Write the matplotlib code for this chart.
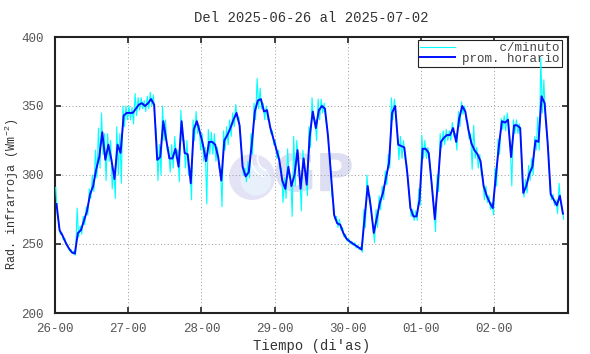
import matplotlib
matplotlib.use('Agg')
import matplotlib.pyplot as plt
import numpy as np
from matplotlib.patches import Ellipse, Arc

plt.rcParams['font.family'] = ['Liberation Mono', 'DejaVu Sans Mono']
plt.rcParams['mathtext.default'] = 'regular'

# ---- data (hourly averages, per day) ----
day_labels = ["26-00", "27-00", "28-00", "29-00", "30-00", "01-00", "02-00"]

prom_26 = [279, 260, 256, 251, 247, 244, 243, 258, 260, 267, 274, 286, 292, 304, 313, 331, 311, 322, 311, 297, 322, 316, 343, 345]
prom_27 = [345, 345, 348, 351, 352, 350, 352, 355, 351, 311, 313, 339, 325, 312, 312, 319, 306, 339, 316, 315, 294, 333, 339, 331]
prom_28 = [322, 310, 324, 324, 322, 313, 296, 325, 329, 334, 340, 345, 336, 306, 299, 302, 322, 346, 354, 355, 346, 347, 335, 327]
prom_29 = [319, 311, 296, 290, 306, 292, 300, 318, 290, 312, 293, 328, 346, 334, 347, 350, 348, 328, 300, 271, 265, 264, 258, 254]
prom_30 = [252, 250.5, 249, 247.5, 246, 269, 292, 277, 258, 269, 280, 287, 298, 309, 345, 350, 322, 321, 320, 301, 276, 270, 270, 282]
prom_01 = [319, 319, 316, 293, 268, 294, 324, 327, 329, 329, 334, 324, 341, 350, 346, 333, 323, 318, 315, 310, 292, 285, 280, 276]
prom_02 = [299, 321, 339, 338, 340, 313, 336, 336, 334, 287, 292, 301, 306, 325, 324, 357, 352, 323, 286, 282, 278, 285, 272]

# per-minute data: highest and lowest reading within each hour
max_26 = [291, 265, 258, 254, 249, 246, 245, 276, 263, 270, 277, 290, 300, 318, 334, 345, 330, 330, 325, 305, 335, 330, 350, 350]
min_26 = [272, 257, 253, 249, 245, 243, 242, 255, 257, 264, 271, 283, 288, 298, 305, 315, 296, 310, 290, 283, 300, 294, 335, 340]
max_27 = [350, 349, 359, 356, 356, 354, 357, 360, 358, 330, 322, 350, 340, 320, 322, 328, 318, 347, 325, 325, 305, 340, 346, 336]
min_27 = [340, 337, 343, 347, 348, 346, 348, 350, 340, 296, 300, 325, 318, 302, 305, 312, 295, 325, 305, 300, 282, 325, 330, 318]
max_28 = [330, 320, 333, 331, 330, 320, 305, 332, 335, 340, 345, 351, 342, 315, 305, 310, 330, 352, 370, 363, 352, 350, 340, 332]
min_28 = [310, 279, 315, 315, 310, 305, 277, 318, 322, 328, 335, 340, 330, 300, 295, 298, 315, 340, 348, 348, 340, 340, 330, 322]
max_29 = [325, 318, 305, 298, 319, 300, 328, 325, 298, 318, 300, 335, 356, 340, 355, 355, 352, 335, 310, 280, 270, 268, 262, 257]
min_29 = [312, 305, 280, 283, 298, 270, 292, 310, 274, 305, 285, 320, 340, 325, 340, 345, 340, 320, 285, 268, 262, 260, 255, 252]
max_30 = [254, 252, 251, 249, 248, 275, 300, 285, 262, 275, 285, 292, 303, 315, 356, 355, 330, 328, 325, 308, 282, 275, 274, 290]
min_30 = [250, 249, 247, 246, 244, 262, 285, 272, 251, 262, 275, 282, 293, 305, 340, 345, 311, 312, 312, 295, 270, 267, 267, 278]
max_01 = [329, 325, 320, 300, 275, 300, 330, 332, 333, 332, 338, 330, 346, 353, 350, 339, 330, 336, 320, 315, 298, 292, 285, 280]
min_01 = [312, 312, 312, 288, 259, 288, 320, 322, 325, 325, 328, 318, 335, 344, 340, 326, 304, 312, 305, 300, 282, 280, 275, 271]
max_02 = [305, 326, 341, 343, 345, 320, 340, 340, 337, 295, 297, 307, 312, 328, 342, 385, 369, 330, 290, 286, 282, 294, 276]
min_02 = [292, 315, 333, 332, 335, 292, 330, 330, 325, 284, 287, 296, 300, 318, 318, 345, 340, 318, 282, 278, 272, 280, 268]

prom_days = [prom_26, prom_27, prom_28, prom_29, prom_30, prom_01, prom_02]
max_days = [max_26, max_27, max_28, max_29, max_30, max_01, max_02]
min_days = [min_26, min_27, min_28, min_29, min_30, min_01, min_02]

# ---- build time axes (days since 2025-06-26 00:00) ----
t_prom, v_prom, t_min, v_min = [], [], [], []
for d, (p, hi, lo) in enumerate(zip(prom_days, max_days, min_days)):
    for h in range(len(p)):
        t_prom.append(d + (h + 0.5) / 24)
        v_prom.append(p[h])
        t_min.append(d + (h + 0.25) / 24)
        v_min.append(hi[h])
        t_min.append(d + (h + 0.75) / 24)
        v_min.append(lo[h])

W, H = 590, 354
fig = plt.figure(figsize=(W / 100, H / 100), dpi=100)
ax = fig.add_axes([55 / W, 1 - 313 / H, 512.5 / W, 276 / H])

# watermark logo
ax.add_patch(Ellipse((0.3844, 0.4928), 0.0898, 0.1667, transform=ax.transAxes,
                     facecolor='#e3e3f5', edgecolor='none', zorder=0))
ax.add_patch(Ellipse((0.392, 0.48), 0.06, 0.11, transform=ax.transAxes,
                     facecolor='#e8f0fb', edgecolor='none', zorder=0))
for r in (0.05, 0.075):
    ax.add_patch(Arc((0.42, 0.56), r, r * 512.5 / 276, theta1=120, theta2=260,
                     transform=ax.transAxes, color='white', lw=1.2, zorder=0))
ax.text(0.5034, 0.4928, "GP", transform=ax.transAxes, ha='center', va='center',
        fontsize=38, fontweight='bold', family='DejaVu Sans', color='#dedef2', zorder=0)

l1, = ax.plot(t_min, v_min, color='#00ffff', lw=0.8, label='     c/minuto', zorder=3)
l2, = ax.plot(t_prom, v_prom, color='#0010ff', lw=1.4, label='prom. horario', zorder=4)

ax.set_xlim(0, 7)
ax.set_ylim(200, 400)
ax.set_xticks(range(7))
ax.set_xticklabels(day_labels)
ax.set_yticks([200, 250, 300, 350, 400])

ax.grid(True, linestyle=(0, (1, 2.5)), color='#9a9a9a', lw=0.7)
ax.set_axisbelow(True)
ax.tick_params(direction='in', length=4, width=1.2, top=True, right=True,
               labelsize=9, labelcolor='#555555', color='#222222')
ax.tick_params(axis='y', pad=8)
ax.tick_params(axis='x', pad=7)
for s in ax.spines.values():
    s.set_color('#222222')
    s.set_linewidth(1.5)

ax.set_title("Del 2025-06-26 al 2025-07-02", fontsize=10, color='#333333', pad=11)
ax.set_xlabel("Tiempo (di'as)", fontsize=10, color='#333333', labelpad=3)
ax.set_ylabel("Rad. infrarroja (Wm$^{-2}$)", fontsize=8.5, color='#333333')
ax.yaxis.set_label_coords(-0.066, 0.43)

leg = ax.legend(handles=[l1, l2], loc='upper right', bbox_to_anchor=(0.989, 0.989),
                borderaxespad=0, fontsize=9, handlelength=2.8, handletextpad=0.6,
                labelspacing=-0.1, borderpad=0.15, fancybox=False, framealpha=1,
                edgecolor='#222222')
leg.get_frame().set_linewidth(0.8)
for t in leg.get_texts():
    t.set_color('#444444')
leg.set_zorder(2.5)

fig.savefig('out.png', dpi=100)
